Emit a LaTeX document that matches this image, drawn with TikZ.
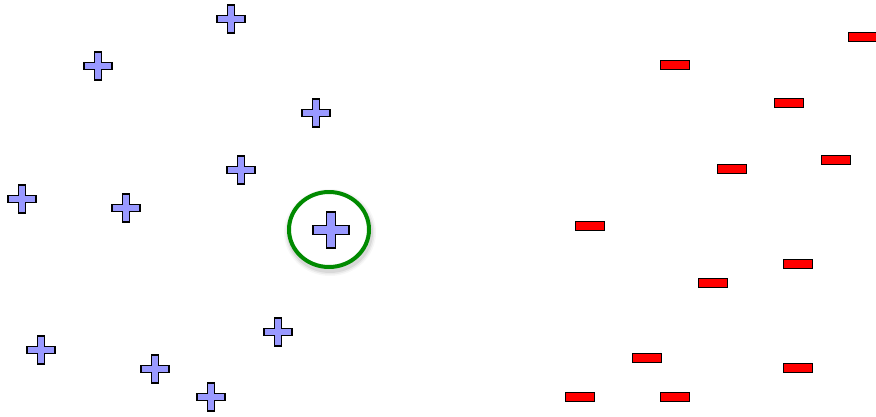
\documentclass[tikz,border=0pt]{standalone}
\usetikzlibrary{positioning}
\definecolor{plusblue}{HTML}{9999FF}
\definecolor{minusred}{HTML}{FF0000}
\definecolor{ringgreen}{HTML}{008A00}

\begin{document}
\begin{tikzpicture}[
  x=1pt, y=-1pt,
  plusmark/.pic={
    \draw[line width=1.4pt, fill=plusblue, line join=miter]
      (-#1*0.24,-#1) -- (#1*0.24,-#1) -- (#1*0.24,-#1*0.24) -- (#1,-#1*0.24)
      -- (#1,#1*0.24) -- (#1*0.24,#1*0.24) -- (#1*0.24,#1) -- (-#1*0.24,#1)
      -- (-#1*0.24,#1*0.24) -- (-#1,#1*0.24) -- (-#1,-#1*0.24) -- (-#1*0.24,-#1*0.24) -- cycle;
  },
  minusmark/.style={rectangle, draw, line width=1.4pt, fill=minusred, minimum width=29pt, minimum height=9pt, inner sep=0pt},
]
\useasboundingbox (0,0) rectangle (876,416);

% positives
\pic (pa) at (231,19) {plusmark=14};
\pic (pb) at (98,66) {plusmark=14};
\pic (pc) at (316,113) {plusmark=14};
\pic (pd) at (241,170) {plusmark=14};
\pic (pe) at (22,199) {plusmark=14};
\pic (pf) at (126,208) {plusmark=14};
\pic (pg) at (278,332) {plusmark=14};
\pic (ph) at (41,350) {plusmark=14};
\pic (pi) at (155,369) {plusmark=14};
\pic (pj) at (211,397) {plusmark=14};

% query point
\coordinate (query) at (331,230);
\foreach \w/\o in {12/0.03, 9/0.05, 6/0.07}
  \draw[black, opacity=\o, line width=\w pt] ([shift={(1,3)}]329,229.5) ellipse [x radius=40, y radius=37.5];
\draw[ringgreen, line width=4pt, fill=white] (329,229.5) ellipse [x radius=40, y radius=37.5];
\pic (pq) at (query) {plusmark=18};

% negatives
\node[minusmark] (na) at (863,37) {};
\node[minusmark] (nb) at (675,65) {};
\node[minusmark] (nc) at (789,103) {};
\node[minusmark] (nd) at (836,160) {};
\node[minusmark] (ne) at (732,169) {};
\node[minusmark] (nf) at (590,226) {};
\node[minusmark] (ng) at (798,264) {};
\node[minusmark] (nh) at (713,283) {};
\node[minusmark] (ni) at (647,358) {};
\node[minusmark] (nj) at (798,368) {};
\node[minusmark] (nk) at (580,397) {};
\node[minusmark] (nl) at (675,397) {};

\end{tikzpicture}
\end{document}
